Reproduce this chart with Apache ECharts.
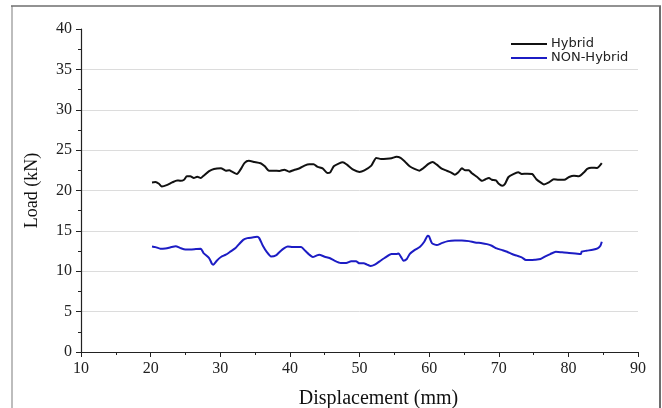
<!DOCTYPE html>
<html><head><meta charset="utf-8">
<script src="https://cdn.jsdelivr.net/npm/echarts@6/dist/echarts.min.js"></script>
<style>html,body{margin:0;padding:0;background:#fff}#c{width:662px;height:408px}</style>
</head><body><div id="c"></div>
<script>
var hybridDisp = [20.2,20.7,21.2,21.6,22.4,23.1,23.8,24.3,24.8,25.2,25.7,26.2,26.7,27.2,27.6,28.4,29.1,30.1,30.8,31.3,31.7,32.4,32.9,33.5,34.1,34.9,35.8,36.4,37.0,37.7,38.5,39.2,39.9,40.6,41.4,42.1,42.8,43.4,44.0,44.7,45.4,45.8,46.3,47.0,47.6,48.2,49.1,50.0,50.7,51.7,52.4,53.1,53.9,54.6,55.3,55.9,56.5,57.2,57.9,58.6,59.2,59.9,60.5,61.1,61.8,62.5,63.1,63.7,64.2,64.7,65.2,65.7,66.1,66.9,67.6,68.1,68.6,69.0,69.6,70.0,70.5,70.9,71.4,72.1,72.8,73.3,74.1,74.8,75.4,76.0,76.5,77.2,77.9,78.6,79.4,80.1,80.8,81.5,82.3,82.7,83.3,84.1,84.8];
var hybridLoad = [21.0,21.04,20.83,20.5,20.7,21.0,21.25,21.2,21.33,21.75,21.75,21.54,21.7,21.54,21.83,22.4,22.67,22.75,22.46,22.5,22.33,22.04,22.58,23.42,23.67,23.54,23.38,23.0,22.46,22.46,22.42,22.58,22.33,22.54,22.75,23.08,23.25,23.25,22.92,22.75,22.17,22.25,23.0,23.33,23.5,23.2,22.58,22.3,22.5,23.08,24.04,23.9,23.93,24.0,24.17,24.04,23.6,23.0,22.67,22.46,22.79,23.29,23.54,23.2,22.7,22.46,22.25,21.96,22.25,22.75,22.5,22.5,22.17,21.67,21.2,21.4,21.54,21.33,21.25,20.83,20.58,20.83,21.67,22.04,22.25,22.04,22.08,22.04,21.4,21.0,20.75,21.0,21.4,21.33,21.33,21.67,21.83,21.75,22.3,22.67,22.83,22.79,23.4];
var nonHybridDisp = [20.2,20.7,21.4,22.1,22.8,23.6,24.3,25.0,25.7,26.5,27.2,27.6,28.4,28.8,29.0,29.5,30.1,30.8,31.5,32.2,32.7,33.3,33.9,34.6,35.3,35.6,36.1,36.7,37.3,38.0,38.6,39.2,39.7,40.4,41.1,41.6,42.2,42.8,43.3,43.8,44.2,45.0,45.7,46.4,47.3,48.1,48.8,49.5,50.0,50.6,51.1,51.6,52.2,52.9,53.6,54.6,55.3,55.6,56.0,56.3,56.8,57.2,57.9,58.7,59.3,59.8,60.0,60.4,61.1,61.8,62.7,63.7,64.7,65.7,66.6,67.6,68.3,69.0,69.7,70.5,71.2,71.9,72.6,73.3,73.9,74.5,75.2,76.0,76.7,77.4,78.2,79.1,80.1,81.0,81.8,81.9,82.6,83.5,84.2,84.6,84.8];
var nonHybridLoad = [13.07,12.99,12.79,12.83,12.95,13.11,12.87,12.7,12.7,12.75,12.79,12.25,11.64,10.94,10.82,11.31,11.76,12.05,12.46,12.87,13.36,13.89,14.1,14.18,14.26,14.1,13.2,12.38,11.84,11.97,12.46,12.87,13.07,12.99,12.99,12.99,12.54,12.05,11.76,11.93,12.05,11.8,11.64,11.31,11.02,11.02,11.23,11.23,10.98,10.98,10.82,10.66,10.82,11.23,11.64,12.13,12.13,12.2,11.72,11.31,11.52,12.13,12.62,13.03,13.65,14.39,14.3,13.48,13.24,13.48,13.73,13.81,13.81,13.73,13.57,13.48,13.36,13.16,12.83,12.62,12.42,12.13,11.93,11.72,11.39,11.39,11.43,11.52,11.84,12.13,12.42,12.34,12.25,12.2,12.13,12.42,12.54,12.66,12.83,13.16,13.65];
var seriesNames = ['Hybrid','NON-Hybrid'];
var xAxisName = 'Displacement (mm)';
var yAxisName = 'Load (kN)';

function pairs(xs, ys){ return xs.map(function(x,i){ return [x, ys[i]]; }); }

var chart = echarts.init(document.getElementById('c'), null, {renderer:'canvas'});
var serif = 'Liberation Serif';
chart.setOption({
  backgroundColor:'#fff',
  animation:false,
  grid:{left:81, right:24, top:29, bottom:56, containLabel:false, outerBoundsMode:'none'},
  legend:{
    orient:'vertical', left:511, top:37, padding:0, itemGap:0,
    itemWidth:36, itemHeight:2, icon:'rect',
    textStyle:{fontFamily:'DejaVu Sans', fontSize:13, color:'#222', lineHeight:14, padding:[0,0,0,-1]},
    data:seriesNames
  },
  xAxis:{
    type:'value', min:10, max:90, interval:10,
    name:xAxisName, nameLocation:'middle', nameGap:37,
    nameTextStyle:{fontFamily:serif, fontSize:20, color:'#111', padding:[0,0,0,38]},
    axisLine:{show:true, onZero:false, lineStyle:{color:'#222', width:1.2}},
    axisTick:{show:true, length:5, lineStyle:{color:'#222'}},
    minorTick:{show:true, splitNumber:2, length:3, lineStyle:{color:'#222'}},
    axisLabel:{fontFamily:serif, fontSize:16, color:'#222', margin:9},
    splitLine:{show:false}
  },
  yAxis:{
    type:'value', min:0, max:40, interval:5,
    name:yAxisName, nameLocation:'middle', nameGap:40,
    nameTextStyle:{fontFamily:serif, fontSize:18, color:'#111'},
    axisLine:{show:true, lineStyle:{color:'#222', width:1.2}},
    axisTick:{show:true, length:5, lineStyle:{color:'#222'}},
    minorTick:{show:true, splitNumber:2, length:3, lineStyle:{color:'#222'}},
    axisLabel:{fontFamily:serif, fontSize:16, color:'#222', margin:9},
    splitLine:{show:true, showMaxLine:false, lineStyle:{color:'#dcdcdc', width:1}}
  },
  series:[
    {name:seriesNames[0], type:'line', data:pairs(hybridDisp, hybridLoad), showSymbol:false, smooth:0.2,
     lineStyle:{color:'#111', width:2}, itemStyle:{color:'#111'}},
    {name:seriesNames[1], type:'line', data:pairs(nonHybridDisp, nonHybridLoad), showSymbol:false, smooth:0.2,
     lineStyle:{color:'#1c1cc4', width:2}, itemStyle:{color:'#1c1cc4'}}
  ],
  graphic:[
    {type:'line', shape:{x1:12, y1:6, x2:12, y2:408}, style:{stroke:'#bdbdbd', lineWidth:2}},
    {type:'line', shape:{x1:11, y1:6, x2:661, y2:6}, style:{stroke:'#6e6e6e', lineWidth:1.5}},
    {type:'line', shape:{x1:660, y1:6, x2:660, y2:408}, style:{stroke:'#6e6e6e', lineWidth:2}}
  ]
});
</script></body></html>
